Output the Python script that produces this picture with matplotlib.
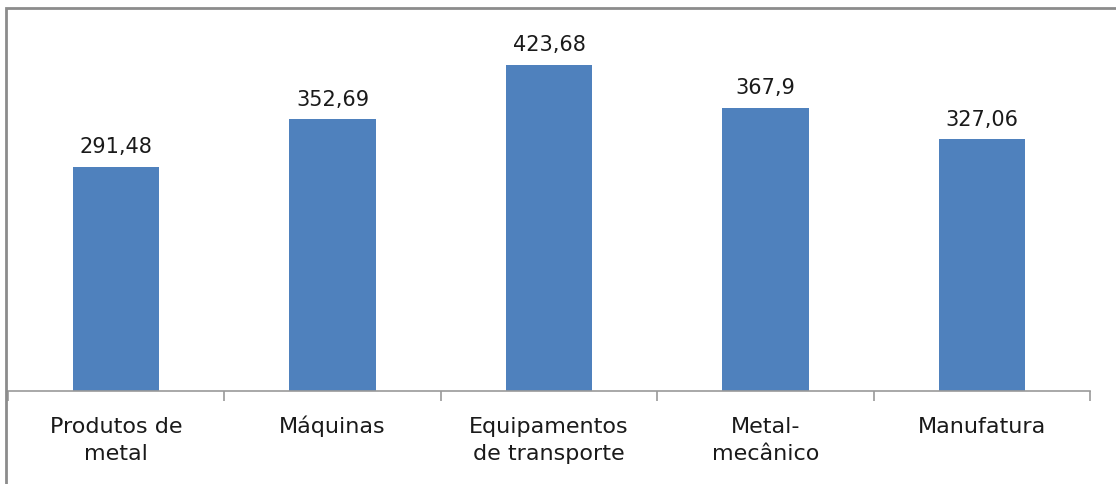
import matplotlib
matplotlib.use("Agg")
import matplotlib.pyplot as plt
from matplotlib.patches import Rectangle
import numpy as np

categories = ["Produtos de\nmetal", "Máquinas", "Equipamentos\nde transporte", "Metal-\nmecânico", "Manufatura"]
values = [291.48, 352.69, 423.68, 367.9, 327.06]
value_labels = ["291,48", "352,69", "423,68", "367,9", "327,06"]

plt.rcParams["font.family"] = ["DejaVu Sans"]

W, H = 1116, 485
fig = plt.figure(figsize=(W / 100, H / 100), dpi=100)

# outer chart frame (extends past the right and bottom edges)
fig.patches.append(Rectangle((6 / W, -0.1), 1.2, (H - 9) / H + 0.1, transform=fig.transFigure,
                             fill=False, edgecolor="#8c8c8c", linewidth=2.0))

left, right = 8 / W, 1090 / W
bottom, top = (H - 392) / H, (H - 7) / H
ax = fig.add_axes([left, bottom, right - left, top - bottom])

x = np.arange(len(categories))
ax.bar(x, values, width=0.4, color="#4f81bd", zorder=2)

for xi, v, lab in zip(x, values, value_labels):
    ax.annotate(lab, (xi, v), xytext=(0, 10.5), textcoords="offset points",
                ha="center", va="baseline", fontsize=15, color="#1a1a1a")

ax.set_xlim(-0.5, len(categories) - 0.5)
ax.set_ylim(0, 500)

for s in ["top", "right", "left"]:
    ax.spines[s].set_visible(False)
ax.spines["bottom"].set_color("#9a9a9a")
ax.spines["bottom"].set_linewidth(1.2)
ax.set_yticks([])

# boundary ticks between categories
ax.set_xticks(np.arange(len(categories) + 1) - 0.5)
ax.set_xticklabels([])
ax.tick_params(axis="x", which="major", length=7, width=1.2, color="#9a9a9a", direction="out")

# category names under each bar, one text per line on fixed baselines
xform = ax.get_xaxis_transform()
first_baseline = -29.5   # points below the axis line
line_step = 19.4         # points between baselines
for xi, name in zip(x, categories):
    for k, line in enumerate(name.split("\n")):
        ax.annotate(line, (xi, 0), xycoords=xform,
                    xytext=(0, first_baseline - k * line_step), textcoords="offset points",
                    ha="center", va="baseline", fontsize=16, color="#1a1a1a",
                    annotation_clip=False)

fig.savefig("out.png", dpi=100)
